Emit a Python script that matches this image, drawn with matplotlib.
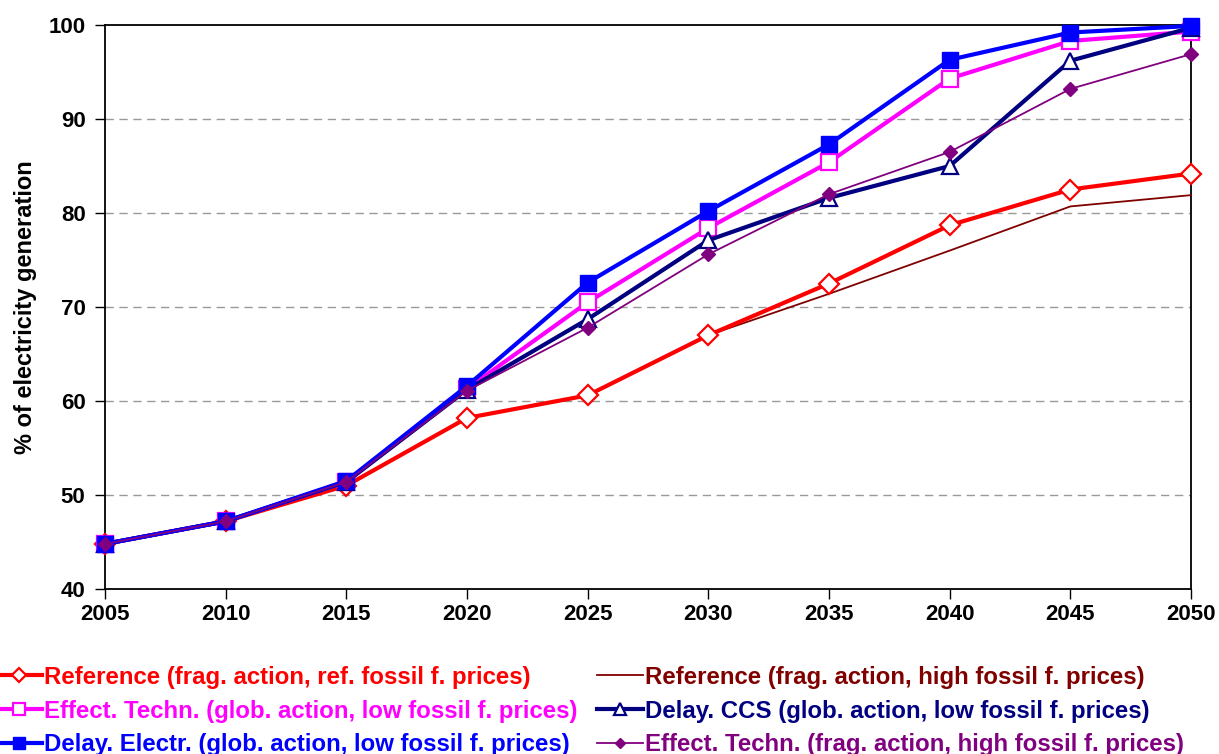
import matplotlib
matplotlib.use("Agg")
import matplotlib.pyplot as plt

years = [2005, 2010, 2015, 2020, 2025, 2030, 2035, 2040, 2045, 2050]

ref_ref = [44.8, 47.2, 51.0, 58.2, 60.6, 67.0, 72.5, 78.7, 82.5, 84.2]
ref_high = [44.8, 47.2, 51.0, 58.2, 60.6, 67.0, 71.4, 76.0, 80.7, 81.9]
eff_glob = [44.8, 47.2, 51.4, 61.3, 70.5, 78.4, 85.4, 94.3, 98.3, 99.3]
delay_ccs = [44.8, 47.2, 51.4, 61.2, 68.7, 77.1, 81.6, 85.0, 96.2, 99.7]
delay_elec = [44.8, 47.2, 51.5, 61.6, 72.6, 80.2, 87.3, 96.3, 99.2, 99.9]
eff_frag = [44.8, 47.2, 51.4, 61.1, 67.8, 75.6, 82.0, 86.5, 93.2, 96.9]

labels = [
    "Reference (frag. action, ref. fossil f. prices)",
    "Reference (frag. action, high fossil f. prices)",
    "Effect. Techn. (glob. action, low fossil f. prices)",
    "Delay. CCS (glob. action, low fossil f. prices)",
    "Delay. Electr. (glob. action, low fossil f. prices)",
    "Effect. Techn. (frag. action, high fossil f. prices)",
]
ylabel = "% of electricity generation"

plt.rcParams['font.family'] = ['Liberation Sans', 'DejaVu Sans']
plt.rcParams['font.weight'] = 'bold'

fig = plt.figure(figsize=(12.19, 7.54), dpi=100)
ax = fig.add_axes([105/1219, 1-589/754, (1191-105)/1219, (589-25)/754])

c_red, c_brown, c_mag, c_navy, c_blue, c_purp = "#FF0000", "#800000", "#FF00FF", "#000080", "#0000FF", "#800080"

kw = dict(clip_on=False)
h_brown, = ax.plot(years, ref_high, color=c_brown, lw=1.3, zorder=3, **kw)
h_red, = ax.plot(years, ref_ref, color=c_red, lw=3, marker="D", ms=10,
                 mfc="white", mec=c_red, mew=1.6, zorder=4, **kw)
h_mag, = ax.plot(years, eff_glob, color=c_mag, lw=3, marker="s", ms=12,
                 mfc="white", mec=c_mag, mew=1.6, zorder=5, **kw)
h_navy, = ax.plot(years, delay_ccs, color=c_navy, lw=3, marker="^", ms=12,
                  mfc="white", mec=c_navy, mew=1.6, zorder=6, **kw)
h_blue, = ax.plot(years, delay_elec, color=c_blue, lw=3, marker="s", ms=11,
                  mfc=c_blue, mec=c_blue, zorder=7, **kw)
h_purp, = ax.plot(years, eff_frag, color=c_purp, lw=1.3, marker="D", ms=7,
                  mfc=c_purp, mec=c_purp, zorder=8, **kw)

ax.set_xlim(2005, 2050)
ax.set_ylim(40, 100)
ax.set_xticks(years)
ax.set_yticks(range(40, 101, 10))
ax.tick_params(axis="both", direction="out", length=7, width=1, labelsize=16)
ax.tick_params(axis="y", pad=7)
ax.tick_params(axis="x", pad=4)
for lab in ax.get_xticklabels() + ax.get_yticklabels():
    lab.set_fontweight("bold")
for y in range(50, 100, 10):
    ax.axhline(y, color="#999999", lw=1, ls=(0, (6, 4)), zorder=1)
for sp in ax.spines.values():
    sp.set_linewidth(1.3)
    sp.set_color("black")
ax.set_ylabel(ylabel, fontsize=17, fontweight="bold", labelpad=8)

handles = [h_red, h_mag, h_blue, h_brown, h_navy, h_purp]
order_labels = [labels[0], labels[2], labels[4], labels[1], labels[3], labels[5]]
leg = fig.legend(handles, order_labels, loc="upper left", bbox_to_anchor=(-0.003, 0.117),
                 ncol=2, frameon=False, fontsize=17.3, handlelength=1.9,
                 handletextpad=0.1, columnspacing=0.8, labelspacing=0.45,
                 borderaxespad=0, borderpad=0, markerscale=0.75)
for t, h in zip(leg.get_texts(), handles):
    t.set_color(h.get_color())
    t.set_fontweight("bold")

fig.savefig("out.png", dpi=100)
